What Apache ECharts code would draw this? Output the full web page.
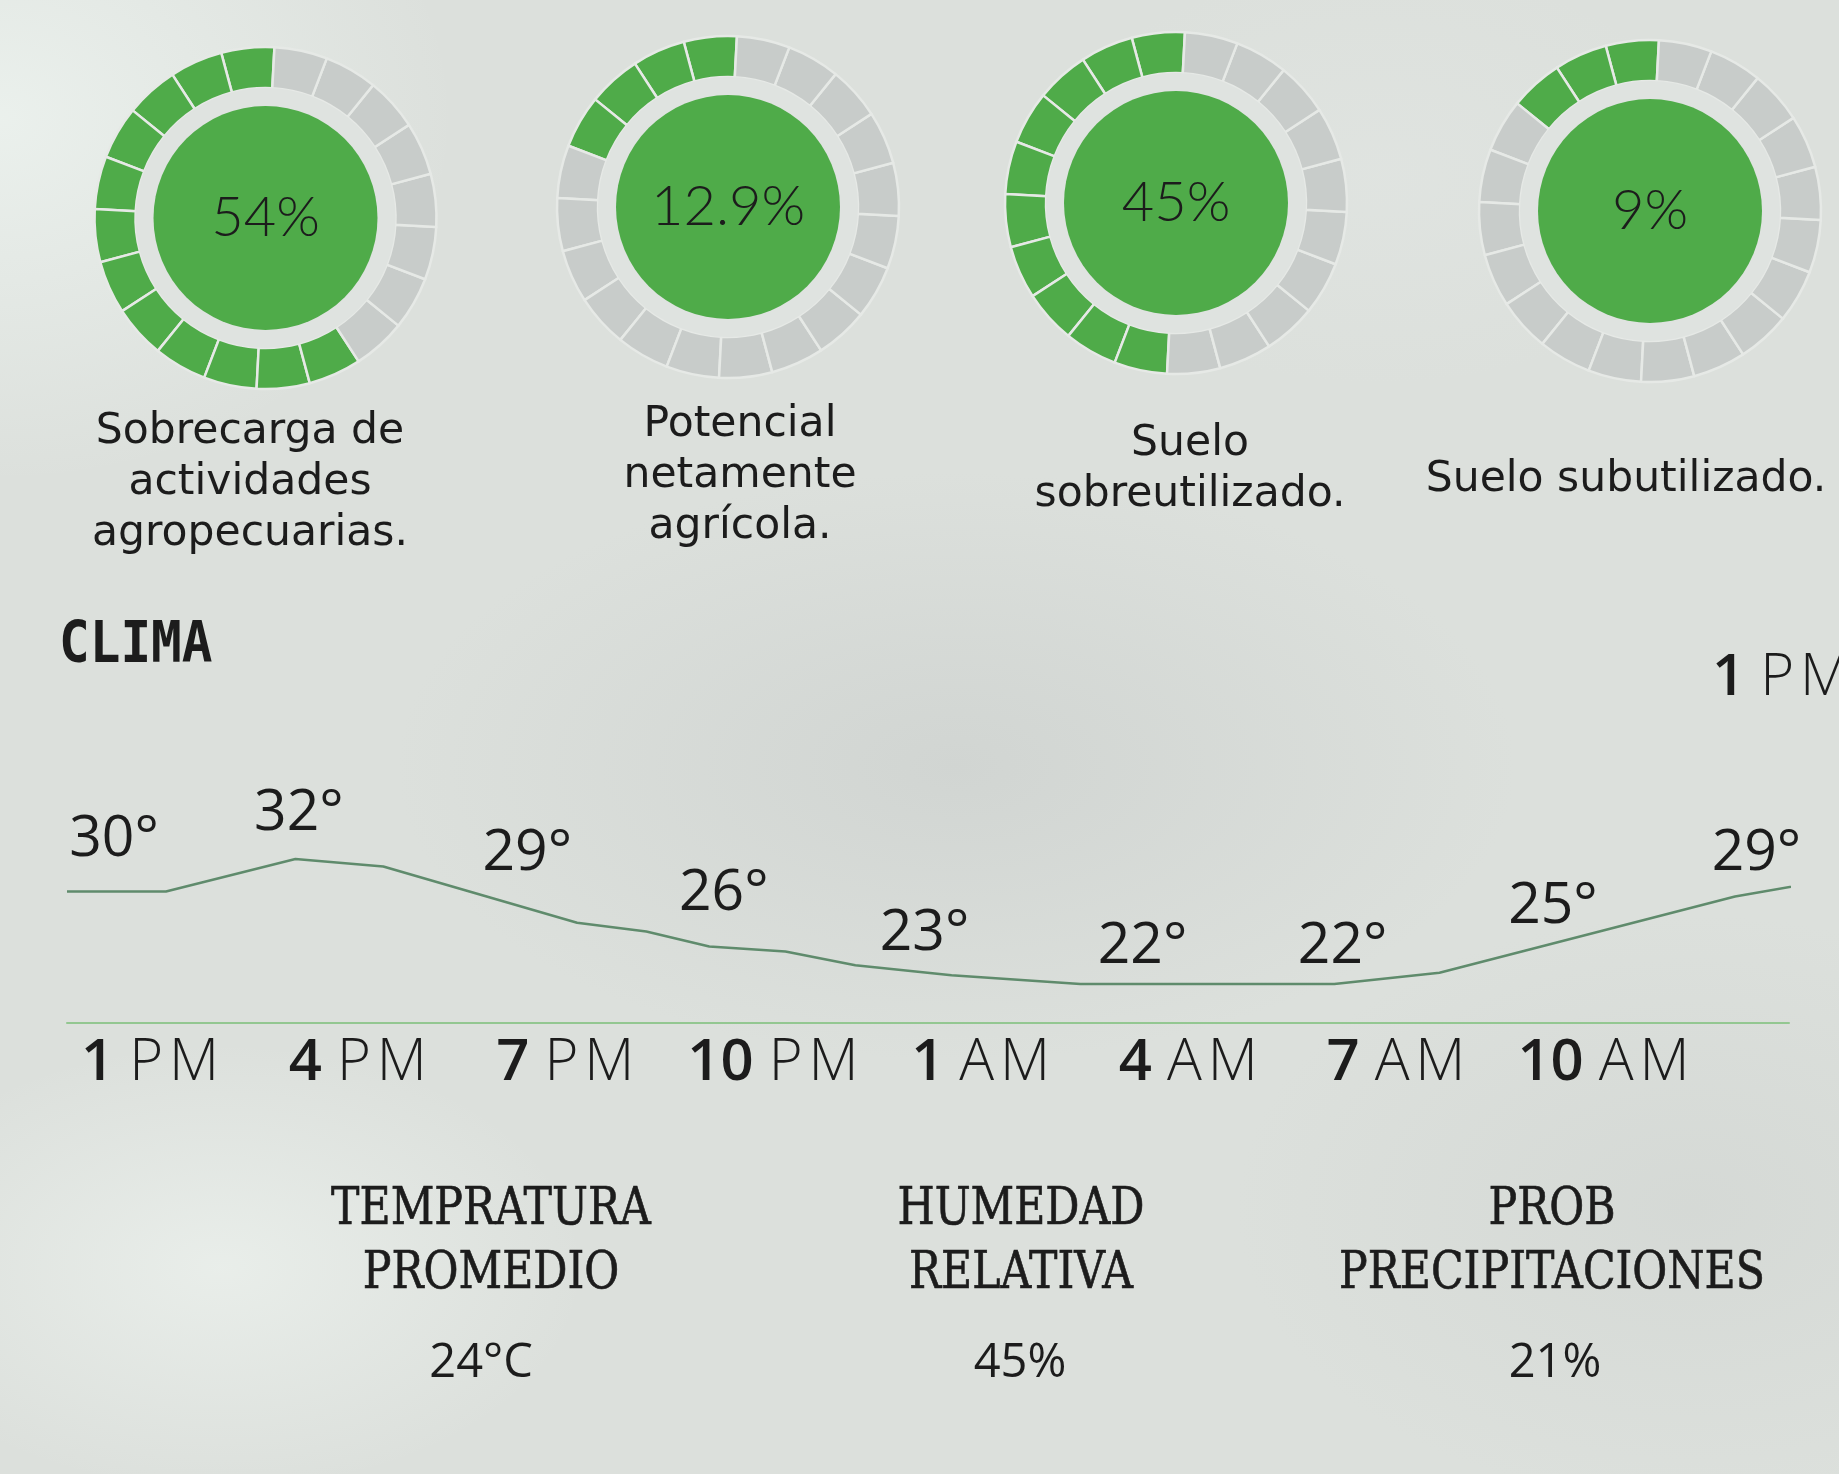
<!DOCTYPE html>
<html>
<head>
<meta charset="utf-8">
<script src="https://cdn.jsdelivr.net/npm/echarts@6/dist/echarts.min.js"></script>
<style>
html,body{margin:0;padding:0;}
body{
  width:1839px;height:1474px;overflow:hidden;
  background:
    radial-gradient(ellipse 650px 520px at 0% 8%, rgba(236,242,238,0.9), rgba(236,242,238,0) 70%),
    radial-gradient(ellipse 800px 420px at 52% 52%, rgba(200,204,202,0.55), rgba(200,204,202,0) 70%),
    radial-gradient(ellipse 520px 320px at 12% 86%, rgba(236,241,237,0.8), rgba(236,241,237,0) 70%),
    radial-gradient(ellipse 650px 420px at 92% 82%, rgba(206,210,207,0.5), rgba(206,210,207,0) 70%),
    radial-gradient(ellipse 500px 300px at 75% 12%, rgba(226,230,227,0.6), rgba(226,230,227,0) 70%),
    #dce0dc;
}
#c{width:1839px;height:1474px;}
</style>
</head>
<body>
<div id="c"></div>
<script>
// ---------- DATA ----------
const gaugeNames = ['Sobrecarga de\nactividades\nagropecuarias.', 'Potencial\nnetamente\nagrícola.', 'Suelo\nsobreutilizado.', 'Suelo subutilizado.'];
const gaugePercents = [54, 12.9, 45, 9];
const gaugeFilledSegments = [12, 4, 10, 3];
const gaugeSegmentCount = 20;

const timeLabels = ['1 PM', '4 PM', '7 PM', '10 PM', '1 AM', '4 AM', '7 AM', '10 AM'];
const timeTickHours = [0, 3, 6, 9, 12, 15, 18, 21];
const nextDayLabel = '1 PM';

const curveHours = [-1.2, 0.23, 2.10, 3.37, 6.17, 7.17, 8.08, 9.18, 10.19, 11.58, 13.44, 17.11, 18.63, 22.9, 24.03];
const curveTemps = [29.4, 29.4, 32.0, 31.4, 26.9, 26.2, 25.0, 24.6, 23.5, 22.7, 22.0, 22.0, 22.9, 29.0, 30.1];

const readingHours = [-0.52, 2.15, 5.45, 8.29, 11.19, 14.34, 17.23, 20.27, 23.21];
const readingTemps = [30, 32, 29, 26, 23, 22, 22, 25, 29];

const summaryTitles = ['TEMPRATURA\nPROMEDIO', 'HUMEDAD\nRELATIVA', 'PROB\nPRECIPITACIONES'];
const summaryValues = ['24°C', '45%', '21%'];

// ---------- LAYOUT / STYLE ----------
const GREEN = '#4fab49';
const GRAY = '#c8ccca';
const BAND = '#dfe3e0';
const GAP = '#e6e9e6';
const INK = '#1c1c1c';
const gaugeCenters = [[265.5, 218], [728, 207], [1176, 203], [1650, 211]];
const gaugeNamePos = [[250, 483], [740, 476], [1190, 469.5], [1626, 480]];
const summaryPos = [[491, 1242, 481], [1021, 1242, 1020], [1552, 1242, 1555]];
const valueY = 1364;

const series = [];
gaugePercents.forEach((pct, g) => {
  const center = gaugeCenters[g];
  series.push({
    type: 'pie', center, radius: [130, 171], startAngle: 87, clockwise: false,
    silent: true, animation: false, label: {show: false}, labelLine: {show: false},
    itemStyle: {borderColor: GAP, borderWidth: 2.5},
    data: Array.from({length: gaugeSegmentCount}, (_, i) => ({
      value: 1, itemStyle: {color: i < gaugeFilledSegments[g] ? GREEN : GRAY}
    }))
  });
  series.push({
    type: 'pie', center, radius: [111, 130], silent: true, animation: false,
    label: {show: false}, labelLine: {show: false},
    data: [{value: 1, itemStyle: {color: BAND}}]
  });
  series.push({
    type: 'pie', center, radius: [0, 112], silent: true, animation: false,
    labelLine: {show: false},
    label: {show: true, position: 'center', formatter: pct + '%',
      fontFamily: 'Lato', fontWeight: 300, fontSize: 56, color: INK},
    data: [{value: 1, name: gaugeNames[g], itemStyle: {color: GREEN}}]
  });
});

series.push({
  type: 'line', xAxisIndex: 0, yAxisIndex: 0, clip: false, silent: true, animation: false,
  symbol: 'none', lineStyle: {color: '#5f8b6c', width: 2.5},
  data: curveHours.map((h, i) => [h, curveTemps[i]])
});
series.push({
  type: 'scatter', xAxisIndex: 0, yAxisIndex: 1, clip: false, silent: true, animation: false,
  symbolSize: 1, itemStyle: {color: 'rgba(0,0,0,0)', opacity: 1},
  label: {show: true, position: 'inside', offset: [0, 2], formatter: p => p.value[1] + '°',
    fontFamily: 'Open Sans', fontSize: 57, color: INK, opacity: 1},
  data: readingHours.map((h, i) => [h, readingTemps[i]])
});

const timeRich = {
  n: {fontFamily: 'Open Sans', fontWeight: 600, fontSize: 58, color: INK, lineHeight: 60},
  t: {fontFamily: 'Open Sans', fontWeight: 300, fontSize: 58, color: INK, lineHeight: 60}
};
function timeText(s) {
  const [n, ap] = s.split(' ');
  return '{n|' + n + '}{t| ' + ap.split('').join('\u200a') + '}';
}

const graphic = [];
graphic.push({type: 'text', x: 59, y: 647, scaleY: 1.13,
  style: {text: 'CLIMA', fontFamily: 'DejaVu Sans Mono', fontWeight: 'bold', fontSize: 51, fill: INK,
    align: 'left', verticalAlign: 'middle', textAlign: 'left', textVerticalAlign: 'middle'}});
graphic.push({type: 'text', x: 1712, y: 678,
  style: {text: timeText(nextDayLabel), rich: timeRich, fill: INK,
    align: 'left', verticalAlign: 'middle', textAlign: 'left', textVerticalAlign: 'middle'}});
gaugeNames.forEach((name, g) => {
  graphic.push({type: 'text', x: gaugeNamePos[g][0], y: gaugeNamePos[g][1],
    style: {text: name, fontFamily: 'DejaVu Sans', fontSize: 42.5, lineHeight: 51, fill: INK,
      align: 'center', verticalAlign: 'middle', textAlign: 'center', textVerticalAlign: 'middle'}});
});
summaryTitles.forEach((t, i) => {
  graphic.push({type: 'text', x: summaryPos[i][0], y: summaryPos[i][1], scaleX: 0.82,
    style: {text: t, fontFamily: 'DejaVu Serif', fontSize: 52, lineHeight: 64, fill: INK,
      stroke: INK, lineWidth: 0.7,
      align: 'center', verticalAlign: 'middle', textAlign: 'center', textVerticalAlign: 'middle'}});
  graphic.push({type: 'text', x: summaryPos[i][2], y: valueY,
    style: {text: summaryValues[i], fontFamily: 'Open Sans', fontSize: 47, fill: INK,
      align: 'center', verticalAlign: 'middle', textAlign: 'center', textVerticalAlign: 'middle'}});
});

const option = {
  animation: false,
  backgroundColor: 'transparent',
  grid: {left: 67, right: 50, top: 834, bottom: 451, containLabel: false},
  xAxis: {
    type: 'value', min: -1.2, max: 23.68,
    axisLine: {show: true, onZero: false, lineStyle: {color: '#93c791', width: 2}},
    axisTick: {show: false}, splitLine: {show: false},
    axisLabel: {
      show: true, margin: 10, customValues: timeTickHours,
      formatter: v => timeText(timeLabels[timeTickHours.indexOf(v)] || ''),
      rich: timeRich
    }
  },
  yAxis: [
    {type: 'value', min: 18.88, max: 34, show: false},
    {type: 'value', min: 16.13, max: 30.30, show: false}
  ],
  series,
  graphic
};

const chart = echarts.init(document.getElementById('c'), null, {renderer: 'canvas'});
chart.setOption(option);
</script>
</body>
</html>
